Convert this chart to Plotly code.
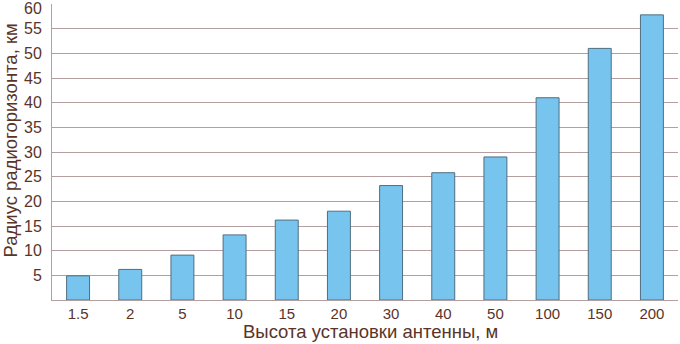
import plotly.graph_objects as go

# Antenna mounting height (m) and the corresponding radio horizon radius (km)
heights = ["1.5", "2", "5", "10", "15", "20", "30", "40", "50", "100", "150", "200"]
radius_km = [4.9, 6.2, 9.1, 13.2, 16.2, 18.0, 23.2, 25.8, 29.0, 41.0, 51.0, 57.8]
y_ticks = [5, 10, 15, 20, 25, 30, 35, 40, 45, 50, 55, 60]

text_color = "#5a3428"
grid_color = "#b39f9f"
font_family = "Liberation Sans, Arial, sans-serif"

plot_w = 680 - 52 - 2
plot_h = 344 - 4 - 44

# The top label sits at the upper edge of the figure, so it is drawn as an
# annotation nudged down a little to keep it fully inside the page.
top_tick = y_ticks[-1]
tick_text = [str(v) for v in y_ticks[:-1]] + [""]

fig = go.Figure(
    go.Bar(
        x=heights,
        y=radius_km,
        width=0.44,
        marker=dict(color="#77c5ef", line=dict(color="#4f6e80", width=1)),
    )
)

fig.update_layout(
    width=680,
    height=344,
    margin=dict(l=52, r=2, t=4, b=44),
    paper_bgcolor="white",
    plot_bgcolor="white",
    showlegend=False,
    font=dict(family=font_family, color=text_color, size=15),
    xaxis=dict(
        type="category",
        automargin=False,
        showgrid=False,
        showline=True,
        linecolor=grid_color,
        linewidth=1,
        ticks="",
        tickfont=dict(size=15, color=text_color),
    ),
    yaxis=dict(
        range=[0, 60.001],
        automargin=False,
        tickvals=y_ticks,
        ticktext=tick_text,
        showgrid=True,
        gridcolor=grid_color,
        gridwidth=1,
        showline=True,
        linecolor=grid_color,
        linewidth=1,
        ticks="",
        ticklabelstandoff=6,
        tickfont=dict(size=16, color=text_color),
        zeroline=False,
    ),
    annotations=[
        dict(
            text=str(top_tick),
            xref="paper", yref="y",
            x=0, y=top_tick,
            xanchor="right", yanchor="middle",
            xshift=-8, yshift=-4,
            showarrow=False,
            font=dict(size=16, color=text_color),
        ),
        dict(
            text="Радиус радиогоризонта, км",
            xref="paper", yref="paper",
            x=-55 / plot_w, y=(300 - 141) / plot_h,
            xanchor="left", yanchor="middle",
            textangle=-90,
            showarrow=False,
            font=dict(size=18.5, color=text_color),
        ),
        dict(
            text="Высота установки антенны, м",
            xref="paper", yref="paper",
            x=(370 - 52) / plot_w, y=-44 / plot_h,
            xanchor="center", yanchor="bottom",
            showarrow=False,
            font=dict(size=18.5, color=text_color),
        ),
    ],
)

fig.write_html("out.html")
